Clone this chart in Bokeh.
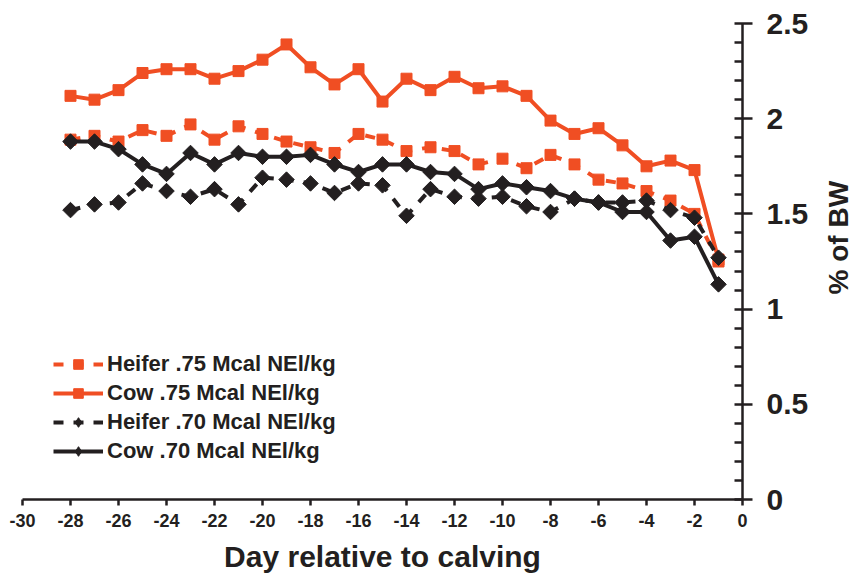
import numpy as np
from bokeh.plotting import figure
from bokeh.layouts import row
from bokeh.models import FixedTicker, Range1d, Legend, LegendItem
from bokeh.core.properties import value
from bokeh.embed import file_html
from bokeh.resources import INLINE

days = list(range(-28, 0))
heifer_075 = [1.89, 1.91, 1.88, 1.94, 1.91, 1.97, 1.89, 1.96, 1.92, 1.88, 1.85, 1.82, 1.92, 1.89,
              1.83, 1.85, 1.83, 1.76, 1.79, 1.74, 1.81, 1.76, 1.68, 1.66, 1.62, 1.57, 1.50, 1.25]
cow_075 = [2.12, 2.10, 2.15, 2.24, 2.26, 2.26, 2.21, 2.25, 2.31, 2.39, 2.27, 2.18, 2.26, 2.09,
           2.21, 2.15, 2.22, 2.16, 2.17, 2.12, 1.99, 1.92, 1.95, 1.86, 1.75, 1.78, 1.73, 1.26]
heifer_070 = [1.52, 1.55, 1.56, 1.66, 1.62, 1.59, 1.63, 1.55, 1.69, 1.68, 1.66, 1.61, 1.66, 1.65,
              1.49, 1.63, 1.59, 1.58, 1.59, 1.54, 1.51, 1.58, 1.56, 1.56, 1.57, 1.52, 1.48, 1.27]
cow_070 = [1.88, 1.88, 1.84, 1.76, 1.71, 1.82, 1.76, 1.82, 1.80, 1.80, 1.81, 1.76, 1.72, 1.76,
           1.76, 1.72, 1.71, 1.63, 1.66, 1.64, 1.62, 1.58, 1.56, 1.51, 1.51, 1.36, 1.38, 1.13]

series_labels = ["Heifer .75 Mcal NEl/kg", "Cow .75 Mcal NEl/kg",
                 "Heifer .70 Mcal NEl/kg", "Cow .70 Mcal NEl/kg"]
x_ticks = list(range(-30, 1, 2))
x_tick_labels = [str(t) for t in x_ticks]
y_ticks = [0, 0.5, 1, 1.5, 2, 2.5]
y_tick_labels = ["0", "0.5", "1", "1.5", "2", "2.5"]
y_minor_ticks = [0.1, 0.2, 0.3, 0.4, 0.6, 0.7, 0.8, 0.9, 1.1, 1.2, 1.3, 1.4,
                 1.6, 1.7, 1.8, 1.9, 2.1, 2.2, 2.3, 2.4]
x_title = "Day relative to calving"
y_title = "% of BW"

ORANGE = "#F04E23"
DARK = "#231F20"
FONT = "Liberation Sans"

p = figure(width=820, height=580, output_backend="svg", toolbar_location=None,
           x_range=Range1d(-30, 0), y_range=Range1d(0, 2.5),
           y_axis_location="right",
           min_border_left=22, min_border_right=78, min_border_top=23, min_border_bottom=81)
p.outline_line_color = None
p.grid.visible = False
p.background_fill_color = "white"
p.border_fill_color = "white"

styles = [
    (heifer_075, ORANGE, "10 10", "square", 0.0, "square"),
    (cow_075, ORANGE, "solid", "square", 0.0, "square"),
    (heifer_070, DARK, "10 10", "square", np.pi / 4, "diamond"),
    (cow_070, DARK, "solid", "square", np.pi / 4, "diamond"),
]
items = []
for (vals, col, dash, mk, ang, legmk), lab in zip(styles, series_labels):
    lr = p.line(days, vals, line_color=col, line_width=4, line_dash=dash)
    p.scatter(days, vals, marker=mk, angle=ang, size=11, fill_color=col, line_color=col)
    # legend-only marker renderer (a single NaN point, never drawn in the plot)
    mr = p.scatter(x=[float("nan")], y=[float("nan")], marker=legmk,
                   fill_color=col, line_color=col)
    items.append(LegendItem(label=lab, renderers=[lr, mr]))

legend = Legend(items=items, location=(31, 35), padding=0, margin=0, spacing=3,
                glyph_width=50, glyph_height=24, label_standoff=4, label_height=20,
                label_text_font=FONT, label_text_font_style="bold",
                label_text_font_size="22px", label_text_color=DARK,
                border_line_color=None, background_fill_alpha=0)
p.add_layout(legend, "center")

# x axis
xa = p.xaxis[0]
xa.ticker = FixedTicker(ticks=x_ticks, minor_ticks=[])
xa.major_label_overrides = {t: s for t, s in zip(x_ticks, x_tick_labels)}
xa.axis_line_color = DARK
xa.axis_line_width = 2.5
xa.major_tick_line_color = DARK
xa.major_tick_line_width = 2.5
xa.major_tick_in = 0
xa.major_tick_out = 6
xa.minor_tick_in = 0
xa.minor_tick_out = 0
xa.major_label_text_font = FONT
xa.major_label_text_font_style = "bold"
xa.major_label_text_font_size = "18px"
xa.major_label_text_color = DARK
xa.major_label_standoff = 8
xa.axis_label = x_title
xa.axis_label_text_font = FONT
xa.axis_label_text_font_style = "bold"
xa.axis_label_text_font_size = "30px"
xa.axis_label_text_color = DARK
xa.axis_label_standoff = 10

# y axis (right)
ya = p.yaxis[0]
ya.ticker = FixedTicker(ticks=y_ticks, minor_ticks=y_minor_ticks)
ya.major_label_overrides = {t: s for t, s in zip(y_ticks, y_tick_labels)}
ya.axis_line_color = DARK
ya.axis_line_width = 2.5
ya.major_tick_line_color = DARK
ya.major_tick_line_width = 2.5
ya.minor_tick_line_color = DARK
ya.minor_tick_line_width = 2.5
ya.major_tick_in = 8
ya.major_tick_out = 10
ya.minor_tick_in = 8
ya.minor_tick_out = 0
ya.major_label_text_font = FONT
ya.major_label_text_font_style = "bold"
ya.major_label_text_font_size = "30px"
ya.major_label_text_color = DARK
ya.major_label_standoff = 14

# narrow side panel carrying the rotated y-axis title (reads bottom-to-top)
side = figure(width=35, height=580, output_backend="svg", toolbar_location=None,
              x_range=Range1d(0, 1), y_range=Range1d(0, 580),
              min_border_left=0, min_border_right=0, min_border_top=0, min_border_bottom=0)
side.axis.visible = False
side.grid.visible = False
side.outline_line_color = None
side.background_fill_color = "white"
side.border_fill_color = "white"
side.text(x=[0.5], y=[319], text=[y_title], angle=np.pi / 2,
          text_align="center", text_baseline="middle",
          text_font=value(FONT), text_font_style="bold", text_font_size="28px",
          text_color=DARK)

layout = row(p, side, spacing=0)
open("out.html", "w").write(file_html(layout, INLINE))
